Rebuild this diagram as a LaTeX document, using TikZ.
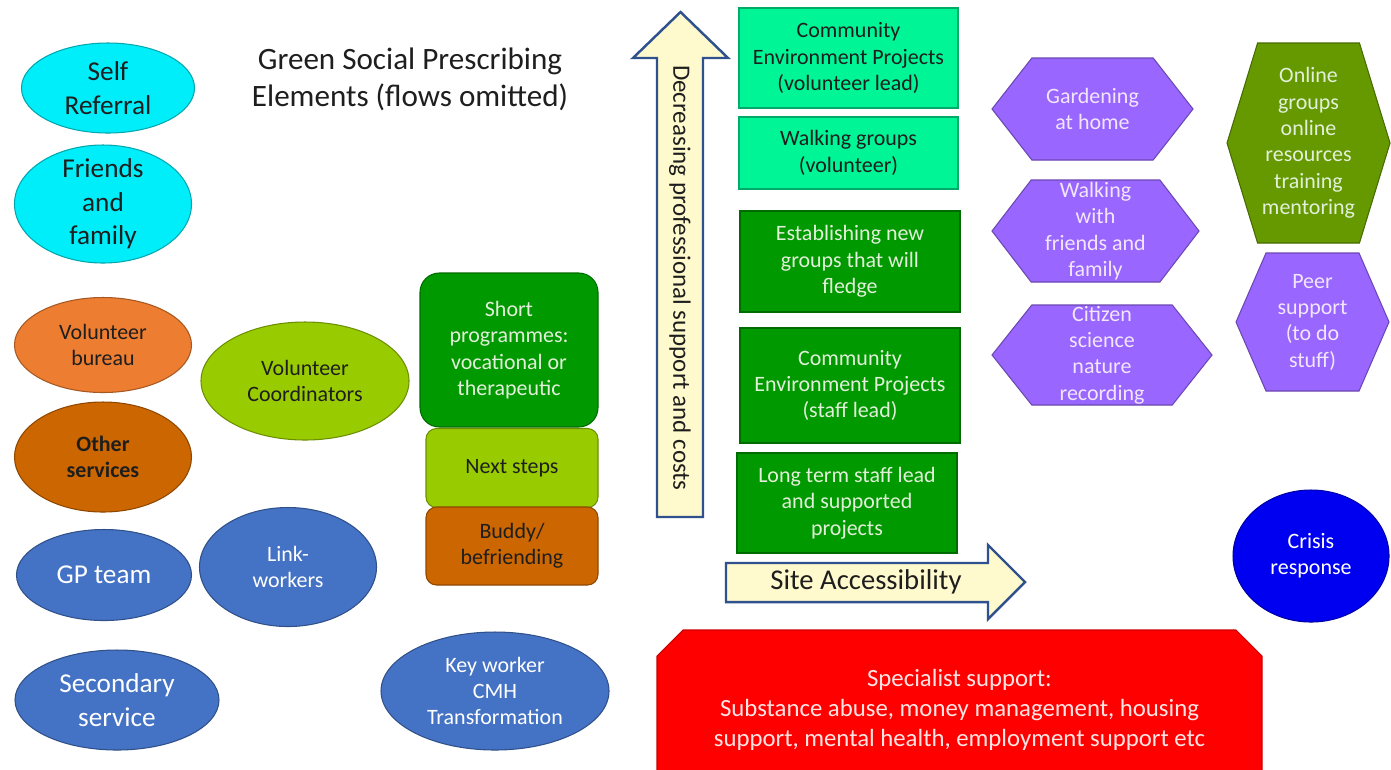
\documentclass[tikz,border=0pt]{standalone}
\usepackage{fontspec}
\setmainfont{Carlito}
\usetikzlibrary{shapes.geometric, shapes.misc, shapes.symbols}
\definecolor{skycyan}{RGB}{0,238,250}
\definecolor{bureau}{RGB}{237,125,49}
\definecolor{rust}{RGB}{204,102,0}
\definecolor{nhsblue}{RGB}{68,114,196}
\definecolor{lime}{RGB}{153,204,0}
\definecolor{leaf}{RGB}{0,153,0}
\definecolor{mint}{RGB}{0,245,150}
\definecolor{hexviolet}{RGB}{153,102,255}
\definecolor{moss}{RGB}{102,153,0}
\definecolor{alarm}{RGB}{255,0,0}
\definecolor{crisisblue}{RGB}{0,0,240}
\definecolor{paper}{RGB}{255,250,205}
\definecolor{arrowline}{RGB}{47,82,143}
\definecolor{palegreen}{RGB}{226,240,217}
\definecolor{palelilac}{RGB}{242,230,252}
\definecolor{palepink}{RGB}{255,228,228}
\definecolor{inkdark}{RGB}{30,30,30}
% one drawing unit is one pixel of the slide
\newcommand{\pxu}{0.02cm}
\newcommand{\ftitle}{\fontsize{17.7}{21}\selectfont}
\newcommand{\fbig}{\fontsize{15.5}{19}\selectfont}
\newcommand{\fmid}{\fontsize{12.5}{15}\selectfont}
\newcommand{\farrow}{\fontsize{16.3}{19}\selectfont}
\newcommand{\fspec}{\fontsize{14.1}{17}\selectfont}
\tikzset{
  size/.style 2 args={minimum width=#1*\pxu, minimum height=#2*\pxu},
  oval/.style={ellipse, draw=#1!70!black, fill=#1, line width=0.6pt, inner sep=0pt},
  card/.style={rectangle, draw=#1!70!black, fill=#1, line width=0.6pt, inner sep=0pt},
  hexa/.style={signal, signal to=east and west, draw=#1!70!black, fill=#1,
    line width=0.6pt, inner xsep=0pt, inner ysep=-6pt, text=palelilac},
  fatarrow/.style={draw=arrowline, fill=paper, line width=1.4pt, line join=miter},
}

\begin{document}
\begin{tikzpicture}[x=0.02cm, y=-0.02cm, every node/.style={align=center, font=\fmid, text=inkdark}]
\clip (0,0) rectangle (1391,769);
\fill[white] (0,0) rectangle (1391,769);

\node[font=\ftitle] (title) at (410,79) {Green Social Prescribing\\Elements (flows omitted)};

% ways in
\node[oval=skycyan, size={173}{90}, font=\fbig] (self) at (108,88) {Self\\Referral};
\node[oval=skycyan, size={177}{118}, font=\fbig, inner ysep=-4pt] (friends) at (103,204) {Friends\\and\\family};
\node[oval=bureau, size={177}{95}] (bureau) at (103,345) {Volunteer\\bureau};
\node[oval=rust, size={177}{110}, font=\fmid\bfseries] (other) at (103,457) {Other\\services};
\node[oval=nhsblue, size={175}{91}, font=\fbig, text=white] (gp) at (104,575) {GP team};
\node[oval=nhsblue, size={204}{100}, font=\fbig, text=white] (secondary) at (117,700) {Secondary\\service};

\node[oval=lime, size={208}{118}] (coord) at (305,381) {Volunteer\\Coordinators};
\node[oval=nhsblue, size={177}{119}, text=white] (link) at (288,567) {Link-\\workers};
\node[oval=nhsblue, size={228}{118}, text=white] (keywork) at (495,691) {Key worker\\CMH\\Transformation};

% short programme stack
\node[card=leaf, size={178}{154}, rounded corners=11pt, text=palegreen] (short) at (509,350) {Short\\programmes:\\vocational or\\therapeutic};
\node[card=lime, size={172}{79}, rounded corners=6pt] (next) at (512,468) {Next steps};
\node[card=rust, size={172}{78}, rounded corners=6pt] (buddy) at (512,546) {Buddy/\\befriending};

% the two axes
\draw[fatarrow] (657,517) -- (657,58) -- (633,58) -- (680.5,12) -- (728,58) -- (703,58) -- (703,517) -- cycle;
\node[rotate=-90, font=\fontsize{14.2}{17}\selectfont] (support) at (680,278) {Decreasing professional support and costs};
\draw[fatarrow] (726,563) -- (988,563) -- (988,545) -- (1025,582) -- (988,619) -- (988,602) -- (726,602) -- cycle;
\node[font=\farrow] (access) at (866,582) {Site Accessibility};

% projects, volunteer led at the top
\node[card=mint, size={219}{100}] (cepvol) at (848.5,58) {Community\\Environment Projects\\(volunteer lead)};
\node[card=mint, size={219}{72}] (walkvol) at (848.5,153) {Walking groups\\(volunteer)};
\node[card=leaf, size={220}{101}, text=palegreen] (fledge) at (850,261.5) {Establishing new\\groups that will\\fledge};
\node[card=leaf, size={220}{115}, text=palegreen] (cepstaff) at (850,385.5) {Community\\Environment Projects\\(staff lead)};
\node[card=leaf, size={220}{100}, text=palegreen] (longterm) at (847,503) {Long term staff lead\\and supported\\projects};

% self directed activities
\node[hexa=hexviolet, size={201}{102}, signal pointer angle=104] (garden) at (1092.5,109) {Gardening\\at home};
\node[hexa=hexviolet, size={207}{102}, signal pointer angle=105] (walkfam) at (1095.5,231) {Walking\\with\\friends and\\family};
\node[hexa=hexviolet, size={220}{100}, signal pointer angle=103] (citizen) at (1102,355) {Citizen\\science\\nature\\recording};
\node[hexa=moss, size={163}{200}, signal pointer angle=146, text=palegreen] (online) at (1308.5,143) {Online\\groups\\online\\resources\\training\\mentoring};
\node[hexa=hexviolet, size={153}{138}, signal pointer angle=133] (peer) at (1312.5,322) {Peer\\support\\(to do\\stuff)};

\node[oval=crisisblue, size={156}{132}, text=white] (crisis) at (1311,556) {Crisis\\response};

\node[chamfered rectangle, chamfered rectangle corners={north west, north east},
  chamfered rectangle xsep=14*\pxu, chamfered rectangle ysep=12*\pxu,
  fill=alarm, draw=alarm!80!black, line width=0.6pt, inner sep=0pt,
  size={605}{160}, font=\fspec, text=palepink] (specialist) at (959.5,710)
  {Specialist support:\\Substance abuse, money management, housing\\support, mental health, employment support etc};
\end{tikzpicture}
\end{document}
